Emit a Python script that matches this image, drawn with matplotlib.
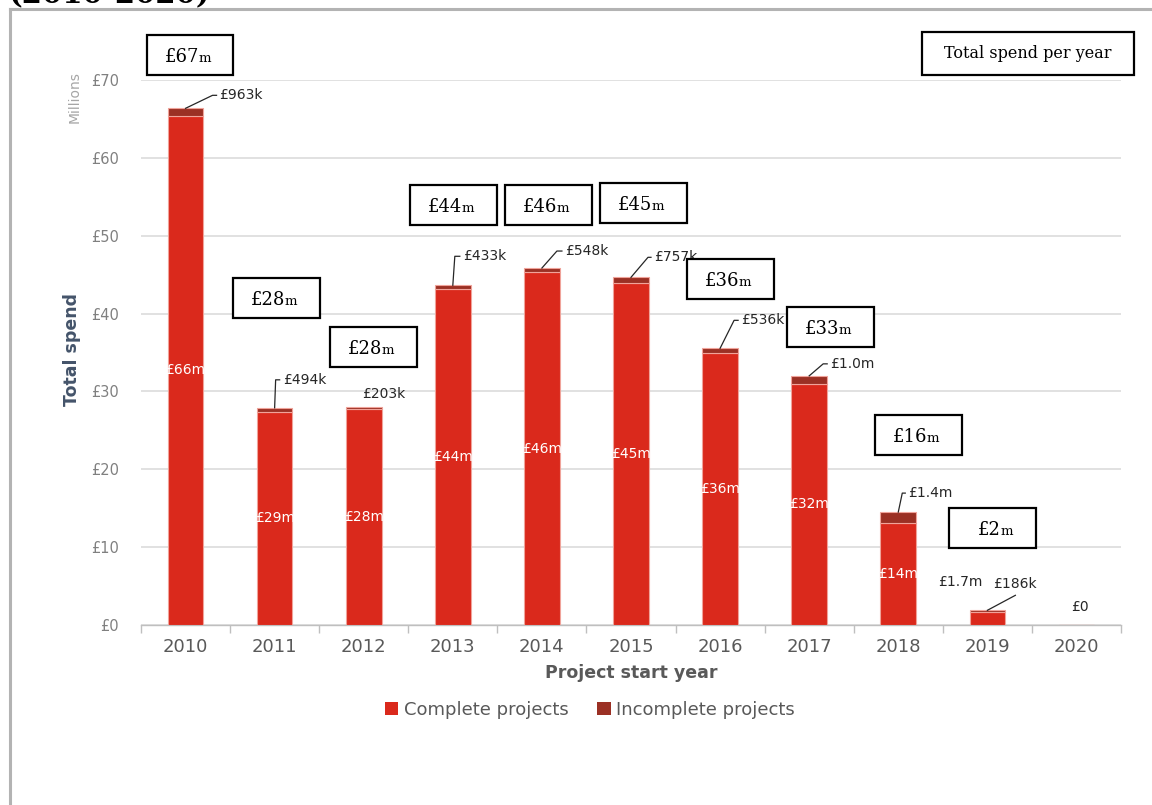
import matplotlib
matplotlib.use("Agg")
import matplotlib.pyplot as plt
from matplotlib.patches import Rectangle
from matplotlib.lines import Line2D

# ---- data (values in £ millions) ----
years = ["2010", "2011", "2012", "2013", "2014", "2015", "2016", "2017", "2018", "2019", "2020"]
complete = [65.4, 27.4, 27.8, 43.2, 45.3, 43.9, 35.0, 31.0, 13.1, 1.7, 0.0]
incomplete = [0.963, 0.494, 0.203, 0.433, 0.548, 0.757, 0.536, 1.0, 1.4, 0.186, 0.0]
complete_labels = ["£66m", "£29m", "£28m", "£44m", "£46m", "£45m", "£36m", "£32m", "£14m", "£1.7m", "£0"]
incomplete_labels = ["£963k", "£494k", "£203k", "£433k", "£548k", "£757k", "£536k", "£1.0m", "£1.4m", "£186k", ""]
total_labels = ["£67", "£28", "£28", "£44", "£46", "£45", "£36", "£33", "£16", "£2", ""]
y_ticks = [0, 10, 20, 30, 40, 50, 60, 70]

# ---- style ----
RED = "#DA291C"
DARK_RED = "#9B3024"
EDGE = "#F0A39A"
GRID = "#D9D9D9"
TICK_GREY = "#808080"
AXIS_GREY = "#595959"
SLATE = "#44546A"
SANS = "DejaVu Sans"
SERIF = "DejaVu Serif"

W, H = 1152, 805
fig = plt.figure(figsize=(W / 100, H / 100), dpi=100)


def fig_px(x, y):
    """Pixel position (from top-left) to figure fraction."""
    return x / W, 1 - y / H


# outer frame and cut-off heading
fig.add_artist(Line2D([10 / W, 10 / W], [1 - 9 / H, 1 - 804 / H], color="#B3B3B3", lw=2.2,
                      transform=fig.transFigure))
fig.add_artist(Line2D([10 / W, 1.0], [1 - 9 / H, 1 - 9 / H], color="#B3B3B3", lw=2.2,
                      transform=fig.transFigure))
fig.text(*fig_px(8, 3), "(2010-2020)", fontsize=21, fontweight="bold", family=SERIF,
         ha="left", va="baseline")

# axes
left, right, top, bottom = 141, 1121, 80, 625
ax = fig.add_axes([left / W, 1 - bottom / H, (right - left) / W, (bottom - top) / H])
x = list(range(len(years)))
ax.bar(x, complete, width=0.4, color=RED, edgecolor=EDGE, linewidth=0.8,
       label="Complete projects", zorder=3)
ax.bar(x, incomplete, width=0.4, bottom=complete, color=DARK_RED, edgecolor=EDGE,
       linewidth=0.8, label="Incomplete projects", zorder=3)

ax.set_xlim(-0.5, len(years) - 0.5)
ax.set_ylim(0, 70)
ax.set_yticks(y_ticks)
ax.set_yticklabels([f"£{v}" for v in y_ticks], color=TICK_GREY, fontsize=10.5, family=SANS)
ax.yaxis.grid(True, color=GRID, lw=1.1, zorder=0)
ax.set_axisbelow(True)
ax.tick_params(axis="y", length=0, pad=16)
ax.set_xticks(x)
ax.set_xticklabels(years, color=AXIS_GREY, fontsize=13, family=SANS)
ax.set_xticks([i - 0.5 for i in range(len(years) + 1)], minor=True)
ax.tick_params(axis="x", which="major", length=0, pad=9)
ax.tick_params(axis="x", which="minor", length=6, color="#BFBFBF", width=1)
for s in ("top", "right", "left"):
    ax.spines[s].set_visible(False)
ax.spines["bottom"].set_color("#BFBFBF")
ax.spines["bottom"].set_linewidth(1)

ax.set_xlabel("Project start year", fontsize=12.5, fontweight="bold", color=AXIS_GREY,
              family=SANS, labelpad=6)
fig.text(*fig_px(72, 350), "Total spend", rotation=90, fontsize=12.5, fontweight="bold",
         color=SLATE, family=SANS, ha="center", va="center")
fig.text(*fig_px(75, 97), "Millions", rotation=90, fontsize=10, color="#A6A6A6",
         family=SANS, ha="center", va="center")

to_disp = ax.transData.transform
to_data = ax.transData.inverted().transform


def shift(xd, yd, dx, dy):
    """Move a data point by (dx, dy) pixels (dy upward)."""
    px, py = to_disp((xd, yd))
    return to_data((px + dx, py + dy))


totals = [c + i for c, i in zip(complete, incomplete)]

# labels inside the complete segments
for i, (c, lab) in enumerate(zip(complete, complete_labels)):
    if c >= 5:
        ax.text(i, c / 2, lab, color="white", ha="center", va="center", fontsize=10,
                family=SANS, zorder=5)

# special placements for the small final bars
p = shift(9, totals[9], -27, 28)
ax.text(p[0], p[1], complete_labels[9], ha="center", va="center", fontsize=10, family=SANS,
        color="#262626")
p = shift(10, 0, 3, 18)
ax.text(p[0], p[1], complete_labels[10], ha="center", va="center", fontsize=10, family=SANS,
        color="#262626")

# incomplete-value labels with leader lines: (elbow dx, elbow dy, tail) in pixels
leaders = {
    0: (27, 13, 4),
    1: (1, 28, 4),
    3: (2, 29, 5),
    4: (15, 17, 5),
    5: (17, 20, 3),
    6: (14, 28, 4),
    7: (14, 12, 4),
    8: (4, 19, 3),
}
for i, (ex, ey, tail) in leaders.items():
    p0 = (i, totals[i])
    p1 = shift(i, totals[i], ex, ey)
    p2 = shift(i, totals[i], ex + tail, ey)
    ax.plot([p0[0], p1[0], p2[0]], [p0[1], p1[1], p2[1]], color="#262626", lw=0.9,
            clip_on=False, zorder=4)
    pt = shift(i, totals[i], ex + tail + 3, ey)
    ax.text(pt[0], pt[1], incomplete_labels[i], ha="left", va="center", fontsize=10,
            family=SANS, color="#262626", clip_on=False)

# 2012: label sits straight above the bar
pt = shift(2, totals[2], -2, 13)
ax.text(pt[0], pt[1], incomplete_labels[2], ha="left", va="center", fontsize=10,
        family=SANS, color="#262626")
# 2019: leader runs up to the right
p1 = shift(9, totals[9], 28, 15)
ax.plot([9, p1[0]], [totals[9], p1[1]], color="#262626", lw=0.9, zorder=4)
pt = shift(9, totals[9], 28, 26)
ax.text(pt[0], pt[1], incomplete_labels[9], ha="center", va="center", fontsize=10,
        family=SANS, color="#262626")

# boxed totals per year: box centre in pixels (x, y from top)
box_centres = [(190, 55), (276, 298), (373, 347), (453, 205), (548, 205), (643, 203),
               (730, 279), (830, 327), (918, 435), (992, 528)]
BW, BH = 87, 40
for lab, (cx, cy) in zip(total_labels, box_centres):
    x0, y0 = fig_px(cx - BW / 2, cy + BH / 2)
    fig.add_artist(Rectangle((x0, y0), BW / W, BH / H, transform=fig.transFigure,
                             facecolor="white", edgecolor="black", lw=1.6, zorder=6))
    tx, ty = fig_px(cx + 9, cy + 7)
    fig.text(tx, ty, lab, ha="right", va="baseline", fontsize=13, family=SERIF, zorder=7)
    fig.text(tx, ty, "m", ha="left", va="baseline", fontsize=9.5, family=SERIF, zorder=7)

# caption box, top right
x0, y0 = fig_px(922, 75)
fig.add_artist(Rectangle((x0, y0), 212 / W, 43 / H, transform=fig.transFigure,
                         facecolor="white", edgecolor="black", lw=1.6, zorder=6))
fig.text(*fig_px(1028, 54), "Total spend per year", ha="center", va="center",
         fontsize=11.5, family=SERIF, zorder=7)

# series legend
handles, labels = ax.get_legend_handles_labels()
leg = fig.legend(handles, labels, loc="center", bbox_to_anchor=fig_px(590, 710), ncol=2,
                 frameon=False, handlelength=0.75, handleheight=0.75, handletextpad=0.3,
                 columnspacing=1.6, prop={"family": SANS, "size": 13})
for txt in leg.get_texts():
    txt.set_color(AXIS_GREY)
for h in leg.legend_handles:
    h.set_edgecolor("none")

fig.savefig("out.png", dpi=100, facecolor="white")
